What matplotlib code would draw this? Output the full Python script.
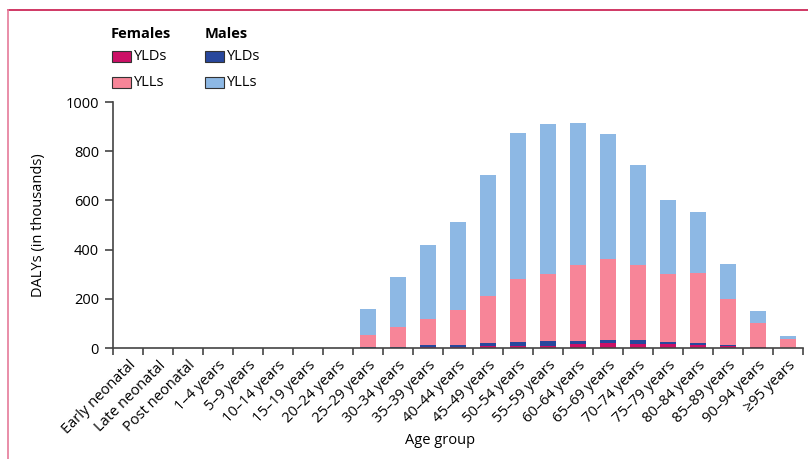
import matplotlib
matplotlib.use("Agg")
import matplotlib.pyplot as plt
import numpy as np
from matplotlib.patches import Rectangle
from matplotlib.lines import Line2D

plt.rcParams['font.family'] = ['Open Sans', 'DejaVu Sans']

# age groups
ages = ["Early neonatal", "Late neonatal", "Post neonatal", "1\u20134 years",
        "5\u20139 years", "10\u201314 years", "15\u201319 years", "20\u201324 years",
        "25\u201329 years", "30\u201334 years", "35\u201339 years", "40\u201344 years",
        "45\u201349 years", "50\u201354 years", "55\u201359 years", "60\u201364 years",
        "65\u201369 years", "70\u201374 years", "75\u201379 years", "80\u201384 years",
        "85\u201389 years", "90\u201394 years", "\u226595 years"]

# DALYs in thousands
fem_yld = [0, 0, 0, 0, 0, 0, 0, 0, 1, 2, 6, 6, 8, 9, 9, 15, 19, 16, 15, 11, 10, 5, 1]
male_yld = [0, 0, 0, 0, 0, 0, 0, 0, 4, 4, 6, 7, 12, 15, 18, 13, 13, 16, 9, 8, 1, 1, 0]
fem_yll = [0, 0, 0, 0, 0, 0, 0, 0, 48, 79, 106, 143, 193, 256, 275, 309, 330, 305, 278, 286, 188, 96, 36]
male_yll = [0, 0, 0, 0, 0, 0, 0, 0, 105, 204, 301, 356, 490, 594, 609, 578, 508, 407, 300, 248, 142, 48, 12]

yticks = [0, 200, 400, 600, 800, 1000]

c_fyld = "#cc1066"
c_fyll = "#f78598"
c_myld = "#28479c"
c_myll = "#8db8e4"

fig = plt.figure(figsize=(8.08, 4.59), dpi=100)
ax = fig.add_axes([113/808, 1 - 348/459, 690/808, 246/459])

x = np.arange(len(ages))
w = 0.53
b1 = np.array(fem_yld)
b2 = b1 + np.array(male_yld)
b3 = b2 + np.array(fem_yll)
ax.bar(x, fem_yld, w, color=c_fyld, linewidth=0)
ax.bar(x, male_yld, w, bottom=b1, color=c_myld, linewidth=0)
ax.bar(x, fem_yll, w, bottom=b2, color=c_fyll, linewidth=0)
ax.bar(x, male_yll, w, bottom=b3, color=c_myll, linewidth=0)

ax.set_xlim(-0.5, len(ages) - 0.5)
ax.set_ylim(0, 1000)
ax.set_yticks(yticks)
ax.set_xticks(x)
ax.set_xticklabels(ages, rotation=45, ha='right', rotation_mode='anchor', fontsize=10.5)
ax.set_xticks(np.arange(len(ages) + 1) - 0.5, minor=True)
ax.tick_params(axis='x', which='major', length=0, pad=7)
ax.tick_params(axis='x', which='minor', length=5, width=1.2, color='#444444')
ax.tick_params(axis='y', length=6, width=1.2, color='#444444', labelsize=10.5, pad=4)
for s in ['top', 'right']:
    ax.spines[s].set_visible(False)
for s in ['left', 'bottom']:
    ax.spines[s].set_color('#444444')
    ax.spines[s].set_linewidth(1.2)

ax.set_ylabel("DALYs (in thousands)", fontsize=10.5, labelpad=14)
fig.text(440/808, 1 - 440/459, "Age group", fontsize=10.5, ha='center', va='center')

# legend drawn by hand
fig.text(111/808, 1 - 34/459, "Females", fontsize=10.5, fontweight='bold', va='center')
fig.text(205/808, 1 - 34/459, "Males", fontsize=10.5, fontweight='bold', va='center')
items = [(112, 57, c_fyld, "YLDs"), (112, 83, c_fyll, "YLLs"),
         (205, 57, c_myld, "YLDs"), (205, 83, c_myll, "YLLs")]
for px, py, col, lab in items:
    fig.patches.append(Rectangle((px/808, 1 - (py + 5)/459), 19/808, 11/459,
                                 facecolor=col, edgecolor='#333333', linewidth=0.8,
                                 transform=fig.transFigure))
    fig.text((px + 22)/808, 1 - py/459, lab, fontsize=10.5, va='center')

# frame lines
fig.lines.append(Line2D([8/808, 1], [1 - 10/459, 1 - 10/459], color='#c8174a',
                        linewidth=1.2, transform=fig.transFigure))
fig.lines.append(Line2D([8/808, 8/808], [0, 1 - 10/459], color='#e57a9a',
                        linewidth=1.2, transform=fig.transFigure))

fig.savefig("out.png", dpi=100)
